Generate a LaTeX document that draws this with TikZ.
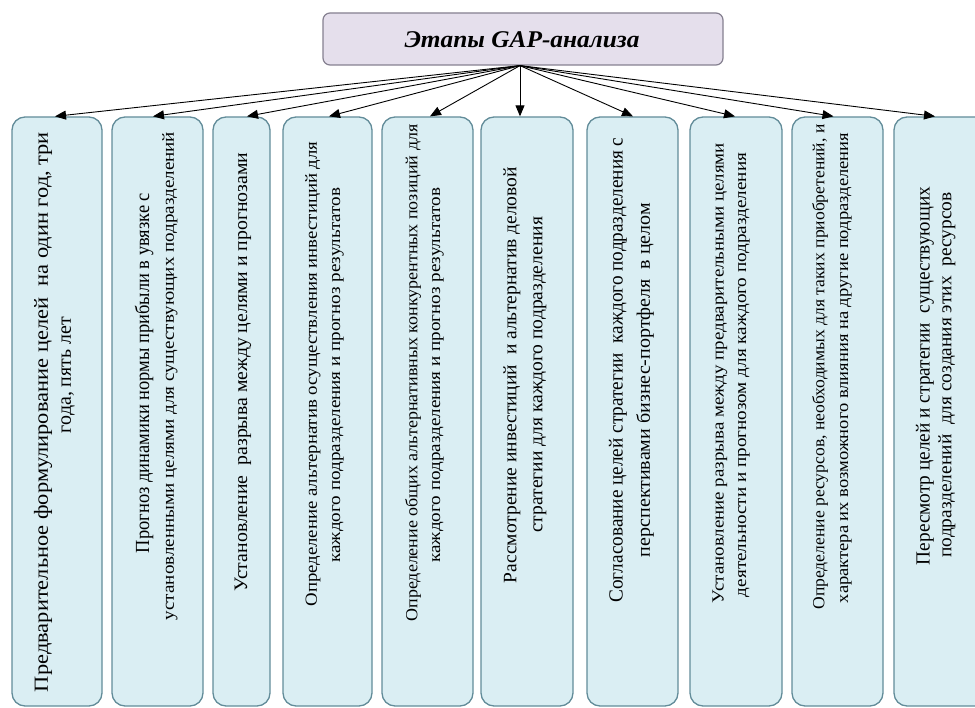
\documentclass[tikz,border=0pt]{standalone}
\usepackage{fontspec}
\setmainfont{Liberation Serif}
\usepackage{graphicx}
\usetikzlibrary{arrows.meta}
\definecolor{stagefill}{HTML}{DAEEF3}
\definecolor{stageedge}{HTML}{628C99}
\definecolor{headfill}{HTML}{E5DFEC}
\definecolor{headedge}{HTML}{858090}
% one line of text, set at a given size and stretched to a given length
\newcommand{\fitln}[3]{\resizebox{#1}{\height}{\fontsize{#2}{#2}\selectfont #3}}
\tikzset{
  stage/.style={draw=stageedge, fill=stagefill, line width=1.3pt, rounded corners=13pt,
                inner sep=0pt, minimum height=589pt},
  headbox/.style={draw=headedge, fill=headfill, line width=1.2pt, rounded corners=7pt,
                  inner sep=0pt, minimum width=400pt, minimum height=52pt},
  ln/.style={inner sep=0pt, rotate=90, anchor=center},
  arr/.style={line width=0.9pt, -{Triangle[length=11pt,width=9pt]}}
}
\begin{document}
\begin{tikzpicture}[x=1pt,y=-1pt]
\useasboundingbox (0,0) rectangle (975,708);

% heading
\node[headbox] (t) at (523,39) {};
\node[inner sep=0pt] (tt) at (522,40) {\fitln{235pt}{24}{\bfseries\itshape Этапы GAP-анализа}};

% stage boxes
\node[stage, minimum width=90pt]  (b1)  at (57,411.5)    {};
\node[stage, minimum width=91pt]  (b2)  at (157.5,411.5) {};
\node[stage, minimum width=57pt]  (b3)  at (241.5,411.5) {};
\node[stage, minimum width=89pt]  (b4)  at (327.5,411.5) {};
\node[stage, minimum width=91pt]  (b5)  at (427.5,411.5) {};
\node[stage, minimum width=92pt]  (b6)  at (527,411.5)   {};
\node[stage, minimum width=91pt]  (b7)  at (632.5,411.5) {};
\node[stage, minimum width=92pt]  (b8)  at (736,411.5)   {};
\node[stage, minimum width=91pt]  (b9)  at (837.5,411.5) {};
\node[stage, minimum width=96pt]  (b10) at (942,411.5)   {};

% connectors
\draw[arr] ([xshift=-3pt]t.south) -- ([xshift=-2pt]b1.north);
\draw[arr] ([xshift=-3pt]t.south) -- ([xshift=-4.5pt]b2.north);
\draw[arr] ([xshift=-3pt]t.south) -- ([xshift=5.5pt]b3.north);
\draw[arr] ([xshift=-3pt]t.south) -- ([xshift=1.5pt]b4.north);
\draw[arr] ([xshift=-3pt]t.south) -- ([xshift=2.5pt]b5.north);
\draw[arr] ([xshift=-3pt]t.south) -- ([xshift=-7pt]b6.north);
\draw[arr] ([xshift=-3pt]t.south) -- ([xshift=0.5pt]b7.north);
\draw[arr] ([xshift=-3pt]t.south) -- ([xshift=-1pt]b8.north);
\draw[arr] ([xshift=-3pt]t.south) -- ([xshift=-4pt]b9.north);
\draw[arr] ([xshift=-3pt]t.south) -- ([xshift=-7pt]b10.north);

% texts of the stages
\node[ln] (b1a) at (43,412) {\fitln{560pt}{20}{Предварительное формулирование целей\ \ на один год, три}};
\node[ln] (b1b) at (68,375) {\fitln{116pt}{20}{года, пять лет}};

\node[ln] (b2a) at (144,373) {\fitln{360pt}{20}{Прогноз динамики нормы прибыли в увязке с}};
\node[ln] (b2b) at (170,376) {\fitln{488pt}{17}{установленными целями для существующих подразделений}};

\node[ln] (b3a) at (243,372) {\fitln{439pt}{19}{Установление\ \ разрыва между целями и прогнозами}};

\node[ln] (b4a) at (313,374) {\fitln{465pt}{17}{Определение альтернатив осуществления инвестиций для}};
\node[ln] (b4b) at (338,375) {\fitln{375pt}{17}{каждого подразделения и прогноз результатов}};

\node[ln] (b5a) at (413,373) {\fitln{497pt}{17}{Определение общих альтернативных конкурентных позиций для}};
\node[ln] (b5b) at (438,375) {\fitln{375pt}{17}{каждого подразделения и прогноз результатов}};

\node[ln] (b6a) at (512,375) {\fitln{416pt}{19}{Рассмотрение инвестиций\ \ и альтернатив деловой}};
\node[ln] (b6b) at (540,375) {\fitln{316pt}{19}{стратегии для каждого подразделения}};

\node[ln] (b7a) at (618,370) {\fitln{465pt}{20}{Согласование целей стратегии\ \ каждого подразделения с}};
\node[ln] (b7b) at (645,380) {\fitln{354pt}{19}{перспективами бизнес-портфеля\ \ в целом}};

\node[ln] (b8a) at (720,373) {\fitln{460pt}{17}{Установление разрыва между предварительными целями}};
\node[ln] (b8b) at (744,375) {\fitln{444pt}{17}{деятельности и прогнозом для каждого подразделения}};

\node[ln] (b9a) at (820,367) {\fitln{485pt}{17}{Определение ресурсов, необходимых для таких приобретений, и}};
\node[ln] (b9b) at (846,368) {\fitln{470pt}{17}{характера их возможного влияния на другие подразделения}};

\node[ln] (b10a) at (925,376) {\fitln{378pt}{20}{Пересмотр целей и стратегии\ \ существующих}};
\node[ln] (b10b) at (947,375) {\fitln{365pt}{19}{подразделений\ \ для создания этих\ \ ресурсов}};
\end{tikzpicture}
\end{document}
